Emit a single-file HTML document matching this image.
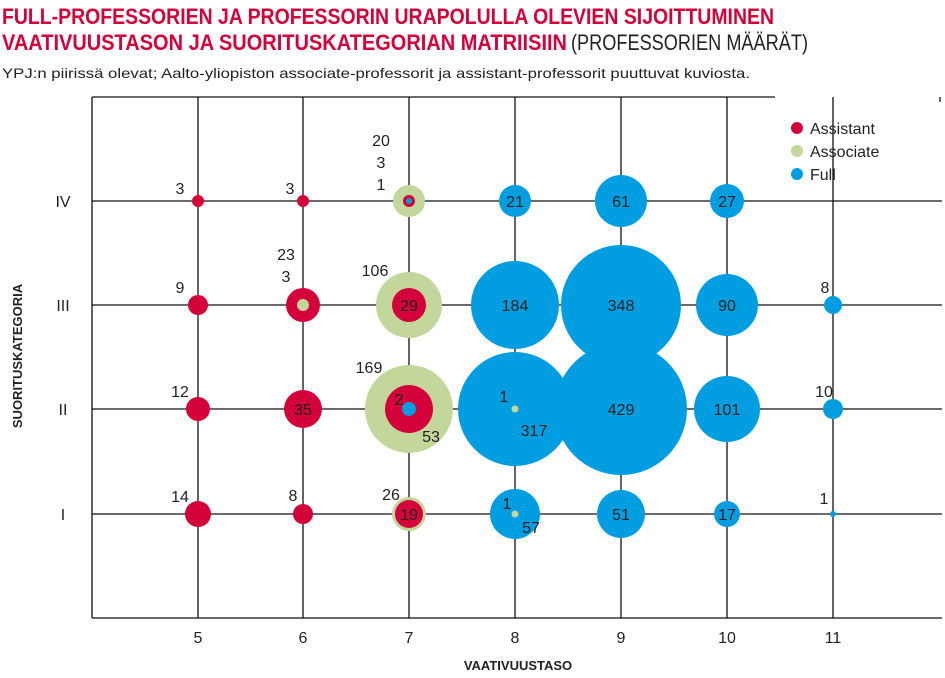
<!DOCTYPE html>
<html><head><meta charset="utf-8"><style>
body{margin:0;background:#fff;width:945px;height:678px;overflow:hidden;font-family:"Liberation Sans",sans-serif}
svg{display:block}
</style></head><body>
<svg width="945" height="678" viewBox="0 0 945 678" font-family="Liberation Sans, sans-serif">
<text x="2" y="24" font-size="22" font-weight="bold" fill="#d4003a" textLength="772" lengthAdjust="spacingAndGlyphs">FULL-PROFESSORIEN JA PROFESSORIN URAPOLULLA OLEVIEN SIJOITTUMINEN</text>
<text x="2" y="50" font-size="22" fill="#d4003a" font-weight="bold" textLength="565" lengthAdjust="spacingAndGlyphs">VAATIVUUSTASON JA SUORITUSKATEGORIAN MATRIISIIN</text>
<text x="571" y="50" font-size="22" fill="#222" textLength="237" lengthAdjust="spacingAndGlyphs">(PROFESSORIEN MÄÄRÄT)</text>
<text x="2" y="78" font-size="14" fill="#222" textLength="748" lengthAdjust="spacingAndGlyphs">YPJ:n piirissä olevat; Aalto-yliopiston associate-professorit ja assistant-professorit puuttuvat kuviosta.</text>
<g stroke="#111" stroke-width="1.3" fill="none">
<line x1="92" y1="97" x2="775" y2="97"/><line x1="92" y1="97" x2="92" y2="618"/><line x1="92" y1="618" x2="942" y2="618"/><line x1="940" y1="97" x2="940" y2="102"/>
<line x1="198" y1="97" x2="198" y2="618"/><line x1="303" y1="97" x2="303" y2="618"/><line x1="409" y1="97" x2="409" y2="618"/><line x1="515" y1="97" x2="515" y2="618"/><line x1="621" y1="97" x2="621" y2="618"/><line x1="727" y1="97" x2="727" y2="618"/><line x1="833" y1="97" x2="833" y2="618"/>
<line x1="92" y1="201" x2="942" y2="201"/><line x1="92" y1="305" x2="942" y2="305"/><line x1="92" y1="409" x2="942" y2="409"/><line x1="92" y1="514" x2="942" y2="514"/>
</g>
<g fill="#009ee0">
<circle cx="515" cy="201" r="16"/><circle cx="621" cy="201" r="26"/><circle cx="727" cy="201" r="17"/>
<circle cx="515" cy="305" r="44"/><circle cx="621" cy="305" r="60"/><circle cx="727" cy="305" r="31"/><circle cx="833" cy="305" r="9"/>
<circle cx="515" cy="409" r="57"/><circle cx="621" cy="409" r="66"/><circle cx="727" cy="409" r="33"/><circle cx="833" cy="409" r="10"/>
<circle cx="515" cy="514" r="25"/><circle cx="621" cy="514" r="24"/><circle cx="727" cy="514" r="13"/><circle cx="833" cy="514" r="3"/>
</g>
<g fill="#c3d69b">
<circle cx="409" cy="201" r="16"/><circle cx="409" cy="305" r="33"/><circle cx="409" cy="409" r="44"/><circle cx="409" cy="514" r="17"/>
<circle cx="515" cy="409" r="3.5"/><circle cx="515" cy="514" r="3.5"/>
</g>
<g fill="#d4003a">
<circle cx="198" cy="201" r="6"/><circle cx="303" cy="201" r="6"/><circle cx="409" cy="201" r="6"/>
<circle cx="198" cy="305" r="10"/><circle cx="303" cy="305" r="17"/><circle cx="409" cy="305" r="17"/>
<circle cx="198" cy="409" r="12"/><circle cx="303" cy="409" r="19"/><circle cx="409" cy="409" r="24"/>
<circle cx="198" cy="514" r="13"/><circle cx="303" cy="514" r="10"/><circle cx="409" cy="514" r="14"/>
</g>
<circle cx="303" cy="305" r="6" fill="#c3d69b"/>
<circle cx="409" cy="201" r="3" fill="#009ee0"/><circle cx="409" cy="409" r="7" fill="#009ee0"/>
<g font-size="16" fill="#222" text-anchor="middle">
<text x="180" y="194">3</text><text x="290" y="194">3</text>
<text x="381" y="146">20</text><text x="381" y="168">3</text><text x="381" y="190">1</text>
<text x="515" y="207">21</text><text x="621" y="207">61</text><text x="727" y="207">27</text>
<text x="180" y="293">9</text><text x="286" y="260">23</text><text x="286" y="282">3</text><text x="375" y="276">106</text><text x="409" y="311">29</text>
<text x="515" y="311">184</text><text x="621" y="311">348</text><text x="727" y="311">90</text><text x="825" y="293">8</text>
<text x="180" y="397">12</text><text x="303" y="415">35</text><text x="369" y="373">169</text><text x="399" y="405">2</text><text x="431" y="442">53</text>
<text x="504" y="402">1</text><text x="534" y="436">317</text><text x="621" y="415">429</text><text x="727" y="415">101</text><text x="824" y="397">10</text>
<text x="180" y="502">14</text><text x="293" y="501">8</text><text x="391" y="500">26</text><text x="409" y="520">19</text>
<text x="507" y="509">1</text><text x="531" y="533">57</text><text x="621" y="520">51</text><text x="727" y="520">17</text><text x="824" y="504">1</text>
<text x="198" y="643">5</text><text x="303" y="643">6</text><text x="409" y="643">7</text><text x="515" y="643">8</text><text x="621" y="643">9</text><text x="727" y="643">10</text><text x="833" y="643">11</text>
<text x="63" y="207">IV</text><text x="63" y="311">III</text><text x="63" y="415">II</text><text x="63" y="520">I</text>
</g>
<text x="518" y="670" font-size="13" font-weight="bold" fill="#222" text-anchor="middle">VAATIVUUSTASO</text>
<text transform="translate(22,356) rotate(-90)" font-size="13" font-weight="bold" fill="#222" text-anchor="middle">SUORITUSKATEGORIA</text>
<circle cx="797" cy="128" r="6" fill="#d4003a"/><text x="810" y="134" font-size="16" fill="#222">Assistant</text>
<circle cx="797" cy="151" r="6" fill="#c3d69b"/><text x="810" y="157" font-size="16" fill="#222">Associate</text>
<circle cx="797" cy="174" r="6" fill="#009ee0"/><text x="810" y="180" font-size="16" fill="#222">Full</text>
</svg>
</body></html>
